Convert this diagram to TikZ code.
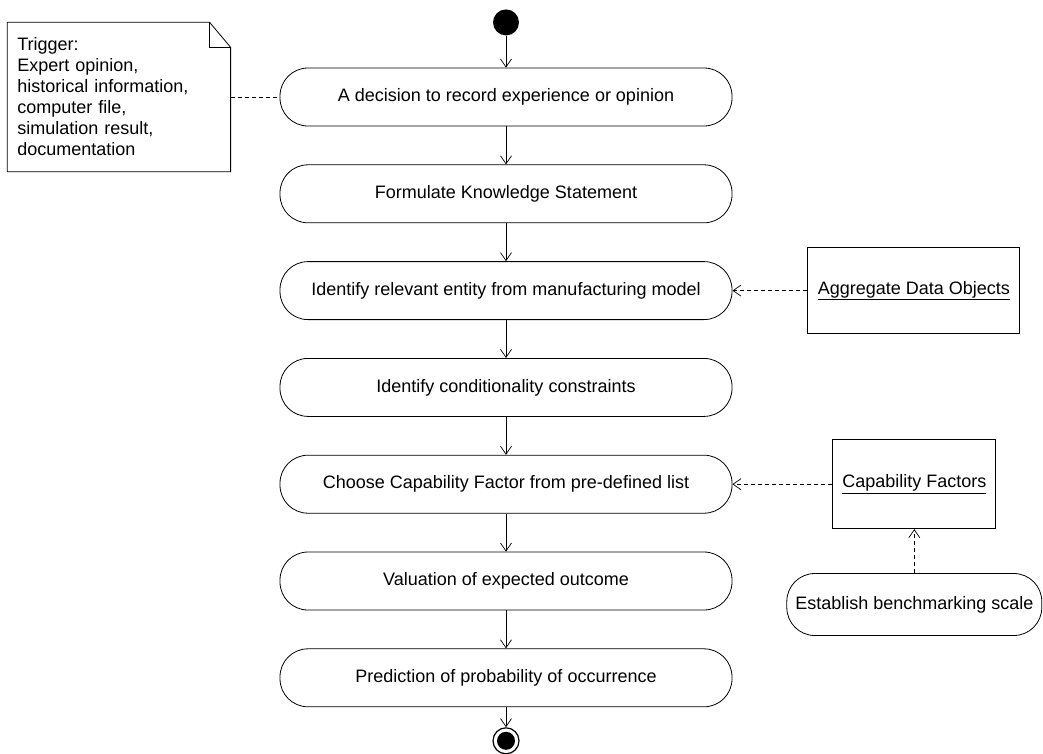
\documentclass[tikz,border=0pt]{standalone}
\usepackage{fontspec}
\setmainfont{Liberation Sans}
\usetikzlibrary{arrows.meta, positioning}

\begin{document}
\begin{tikzpicture}[
  node distance=38pt,
  every node/.style={font=\fontsize{18}{21}\selectfont},
  act/.style={
    rectangle, rounded corners=28pt,
    draw, line width=0.8pt,
    minimum width=452pt, minimum height=58pt,
    align=center, inner sep=0pt
  },
  obj/.style={rectangle, draw, line width=0.8pt, align=center, inner sep=0pt},
  initnode/.style={circle, fill=black, minimum size=26pt, inner sep=0pt},
  finalnode/.style={
    circle, draw, line width=1.2pt, minimum size=26pt, inner sep=0pt,
    path picture={\fill (path picture bounding box.center) circle (9pt);}
  },
  flow/.style={-{Straight Barb[length=8pt,width=11pt]}, line width=0.7pt},
  dep/.style={flow, dash pattern=on 4pt off 3pt},
  anchorline/.style={line width=0.7pt, dash pattern=on 4pt off 3pt}
]
\useasboundingbox (0,0) rectangle (1043pt,-753pt);

% main flow
\node[act] (a1) at (506pt,-97pt) {A decision to record experience or opinion};
\node[initnode, above=32pt of a1] (init) {};
\node[act, below=of a1] (a2) {Formulate Knowledge Statement};
\node[act, below=of a2] (a3) {Identify relevant entity from manufacturing model};
\node[act, below=of a3] (a4) {Identify conditionality constraints};
\node[act, below=of a4] (a5) {Choose Capability Factor from pre-defined list};
\node[act, below=of a5] (a6) {Valuation of expected outcome};
\node[act, below=of a6] (a7) {Prediction of probability of occurrence};
\node[finalnode, below=20pt of a7] (final) {};

% side objects
\node[align=left, text width=203pt, inner sep=10pt, minimum height=149pt,
      left=49pt of a1] (trig)
  {Trigger:\\Expert opinion,\\historical information,\\computer file,\\simulation result,\\documentation};
\node[obj, minimum width=212pt, minimum height=86pt, right=75pt of a3] (ado)
  {\underline{Aggregate Data Objects}};
\node[obj, minimum width=163pt, minimum height=89pt, right=100pt of a5] (cf)
  {\underline{Capability Factors}};
\node[act, minimum width=255pt, minimum height=62pt, below=44pt of cf] (bench)
  {Establish benchmarking scale};

% note outline with folded corner
\draw[line width=0.8pt] (trig.north west) -- ([xshift=-21pt]trig.north east)
  -- ([yshift=-25pt]trig.north east) -- (trig.south east) -- (trig.south west) -- cycle;
\draw[line width=0.8pt] ([xshift=-21pt]trig.north east) |- ([yshift=-25pt]trig.north east);

\draw[flow] (init) -- (a1);
\draw[flow] (a1) -- (a2);
\draw[flow] (a2) -- (a3);
\draw[flow] (a3) -- (a4);
\draw[flow] (a4) -- (a5);
\draw[flow] (a5) -- (a6);
\draw[flow] (a6) -- (a7);
\draw[flow] (a7) -- (final);

\draw[anchorline] (trig) -- (a1);
\draw[dep] (ado) -- (a3);
\draw[dep] (cf) -- (a5);
\draw[dep] (bench) -- (cf);
\end{tikzpicture}
\end{document}
